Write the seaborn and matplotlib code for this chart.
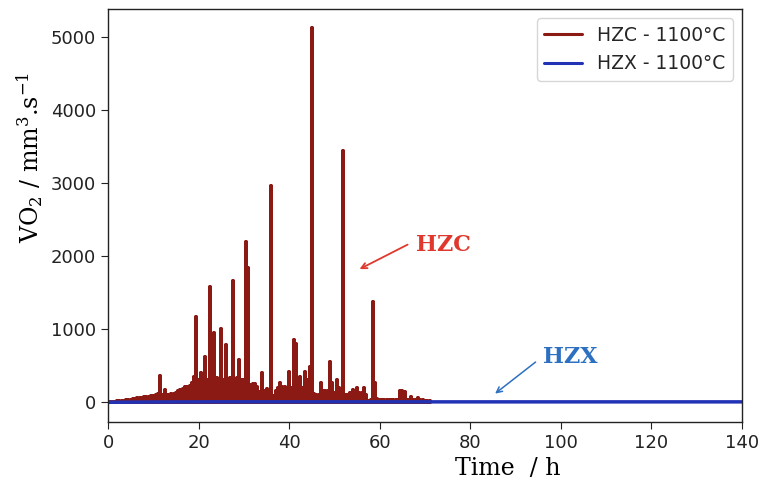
import numpy as np
import pandas as pd
import seaborn as sns
import matplotlib.pyplot as plt

# ---- data ----
hzc_time = np.arange(0, 71.5, 0.5)  # hours, 0.5 h sampling
hzc_vo2 = [
    # 0 - 9.5 h
    0, 3, 6, 9, 12, 16, 20, 24, 28, 33, 38, 43, 48, 53, 58, 63, 68, 72, 76, 80,
    # 10 - 19.5 h
    90, 95, 110, 360, 100, 175, 100, 95, 110, 120, 130, 150, 165, 180, 210, 215, 220, 260, 350, 1165,
    # 20 - 29.5 h
    300, 400, 280, 620, 300, 1575, 310, 945, 330, 300, 1010, 300, 780, 250, 330, 1665, 300, 330, 575, 310,
    # 30 - 39.5 h
    300, 2195, 1845, 240, 250, 250, 210, 140, 400, 150, 180, 120, 2970, 80, 150, 200, 260, 215, 215, 150,
    # 40 - 49.5 h
    410, 200, 850, 800, 250, 340, 200, 410, 300, 480, 5130, 120, 100, 100, 270, 150, 150, 150, 550, 270,
    # 50 - 59.5 h
    125, 300, 200, 100, 3440, 100, 100, 125, 165, 150, 190, 125, 125, 190, 100, 20, 30, 1375, 270, 40,
    # 60 - 69.5 h
    25, 25, 25, 25, 25, 25, 25, 25, 25, 150, 155, 140, 25, 25, 70, 25, 25, 60, 25, 25,
    # 70 - 71 h
    20, 18, 15,
]
hzx_time = [0, 10, 25, 60, 100, 140]
hzx_vo2 = [0, 4, 6, 6, 6, 6]

labels = ["HZC - 1100°C", "HZX - 1100°C"]
x_ticks = [0, 20, 40, 60, 80, 100, 120, 140]
y_ticks = [0, 1000, 2000, 3000, 4000, 5000]

red = "#8c1a14"
blue = "#2232b4"

# each HZC sample is drawn as a thin pulse from the baseline (dense signal look)
v = np.asarray(hzc_vo2, dtype=float)
px = np.repeat(hzc_time, 3)
py = np.column_stack([np.zeros_like(v), v, np.zeros_like(v)]).ravel()

sns.set_style("ticks")
plt.rcParams["mathtext.fontset"] = "dejavuserif"

fig = plt.figure(figsize=(7.6, 4.86), dpi=100)
ax = fig.add_axes([108 / 760, 1 - 422 / 486, 634 / 760, 413 / 486])

sns.lineplot(x=px, y=py, ax=ax, color=red, lw=2.8, estimator=None, sort=False,
             label=labels[0])
sns.lineplot(x=hzx_time, y=hzx_vo2, ax=ax, color=blue, lw=2.5, label=labels[1])

ax.set_xlim(0, 140)
ax.set_ylim(-270, 5390)
ax.set_xticks(x_ticks)
ax.set_yticks(y_ticks)
ax.tick_params(labelsize=13, colors="#222222", length=5)
for s in ax.spines.values():
    s.set_color("#222222")
    s.set_linewidth(1.0)

ax.set_xlabel("Time  / h", fontsize=17, family="DejaVu Serif", color="black")
ax.xaxis.set_label_coords(0.63, -0.085)
ax.set_ylabel(r"VO$_2$ / mm$^3$.s$^{-1}$", fontsize=17, family="DejaVu Serif", color="black")
ax.yaxis.set_label_coords(-0.10, 0.64)

leg = ax.legend(loc="upper right", fontsize=13.5, frameon=True)
for line in leg.get_lines():
    line.set_linewidth(2.2)

# annotations
ax.annotate("", xy=(55, 1808), xytext=(66.7, 2178),
            arrowprops=dict(arrowstyle="->", color="#e0382c", lw=1.3))
ax.text(74, 2150, "HZC", color="#e0382c", fontsize=16, fontweight="bold",
        family="DejaVu Serif", ha="center", va="center")
ax.annotate("", xy=(85, 96), xytext=(94.9, 575),
            arrowprops=dict(arrowstyle="->", color="#2d6fc0", lw=1.1))
ax.text(102, 620, "HZX", color="#2d6fc0", fontsize=16, fontweight="bold",
        family="DejaVu Serif", ha="center", va="center")

fig.savefig("out.png", dpi=100)
